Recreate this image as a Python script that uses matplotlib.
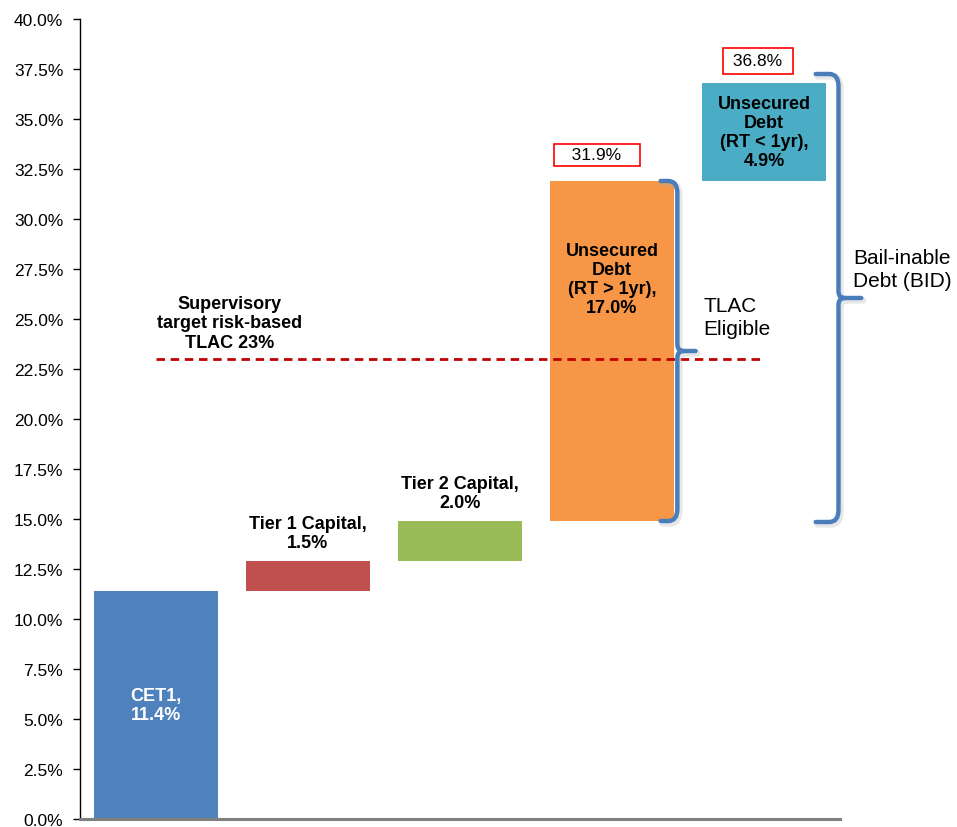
import matplotlib
matplotlib.use("Agg")
import matplotlib.pyplot as plt
from matplotlib.path import Path
from matplotlib.patches import PathPatch
from matplotlib.ticker import FuncFormatter, MultipleLocator
import numpy as np

plt.rcParams['font.family'] = ['Liberation Sans', 'DejaVu Sans']

categories = ["CET1", "Tier 1 Capital", "Tier 2 Capital",
              "Unsecured Debt (RT > 1yr)", "Unsecured Debt (RT < 1yr)"]
values = [11.4, 1.5, 2.0, 17.0, 4.9]
bar_labels = ["CET1,\n11.4%", "Tier 1 Capital,\n1.5%", "Tier 2 Capital,\n2.0%",
              "Unsecured\nDebt\n(RT > 1yr),\n17.0%", "Unsecured\nDebt\n(RT < 1yr),\n4.9%"]
colors = ["#4F81BD", "#C0504D", "#9BBB59", "#F79646", "#4BACC6"]
total_labels = ["31.9%", "36.8%"]
target = 23.0
target_label = "Supervisory\ntarget risk-based\nTLAC 23%"

bottoms = np.concatenate([[0], np.cumsum(values)[:-1]])
tops = bottoms + np.array(values)
x = np.arange(len(values))

fig = plt.figure(figsize=(9.57, 8.28), dpi=100)
ax = fig.add_axes([80/957, 8/828, 760/957, 800/828])

ax.bar(x, values, bottom=bottoms, width=0.82, color=colors, zorder=2)

ax.set_xlim(-0.5, 4.5)
ax.set_ylim(0, 40)
ax.yaxis.set_major_locator(MultipleLocator(2.5))
ax.yaxis.set_major_formatter(FuncFormatter(lambda v, p: f"{v:.1f}%"))
ax.tick_params(axis='y', direction='out', length=5, width=1, labelsize=12.5, pad=7)
ax.set_xticks([])
for s in ['top', 'right']:
    ax.spines[s].set_visible(False)
ax.spines['left'].set_color('black')
ax.spines['left'].set_linewidth(1)
ax.spines['bottom'].set_color('#808080')
ax.spines['bottom'].set_linewidth(2.2)

# bar labels
bold = dict(fontsize=13, fontweight='bold', ha='center', linespacing=1.17)
ax.text(x[0], (bottoms[0] + tops[0]) / 2, bar_labels[0], color='white', va='center', **bold)
ax.text(x[1], tops[1] + 0.5, bar_labels[1], color='black', va='bottom', **bold)
ax.text(x[2], tops[2] + 0.5, bar_labels[2], color='black', va='bottom', **bold)
ax.text(x[3], 27.0, bar_labels[3], color='black', va='center', **bold)
ax.text(x[4], (bottoms[4] + tops[4]) / 2, bar_labels[4], color='black', va='center', **bold)

# total boxes
ax.text(x[3] - 0.10, tops[3] + 1.3, f"   {total_labels[0]}   ", ha='center', va='center',
        fontsize=12.5, bbox=dict(boxstyle='square,pad=0.2', fc='white', ec='red', lw=1.2),
        zorder=5)
ax.text(x[4] - 0.04, tops[4] + 1.1, f" {total_labels[1]} ", ha='center', va='center',
        fontsize=12.5, bbox=dict(boxstyle='square,pad=0.3', fc='white', ec='red', lw=1.2),
        zorder=5)

# target line
ax.hlines(target, x[0], x[4], colors='#C00000', linestyles=(0, (3.05, 2.05)), lw=2.0, zorder=3)
ax.text(0.484, 24.8, target_label, ha='center', va='center', fontsize=13,
        fontweight='bold', linespacing=1.17)


def brace(xv, y0, y1, xhook, xtip, rx, ry, lw=3.2):
    ymid = (y0 + y1) / 2
    verts = [(xhook, y1), (xv - rx, y1), (xv, y1), (xv, y1 - ry),
             (xv, ymid + 0.35), (xv, ymid), (xv + 0.04, ymid), (xtip, ymid),
             (xv + 0.04, ymid), (xv, ymid), (xv, ymid - 0.35),
             (xv, y0 + ry), (xv, y0), (xv - rx, y0), (xhook, y0)]
    codes = [Path.MOVETO, Path.LINETO, Path.CURVE3, Path.CURVE3,
             Path.LINETO, Path.CURVE3, Path.CURVE3, Path.LINETO,
             Path.MOVETO, Path.CURVE3, Path.CURVE3,
             Path.LINETO, Path.CURVE3, Path.CURVE3, Path.LINETO]
    sh = [(vx + 0.012, vy - 0.12) for vx, vy in verts]
    ax.add_patch(PathPatch(Path(sh, codes), fc='none', ec='#b0b0b0', lw=lw + 1.5,
                           alpha=0.3, clip_on=False, zorder=3, capstyle='round'))
    ax.add_patch(PathPatch(Path(verts, codes), fc='none', ec='#4A7EBB', lw=lw,
                           clip_on=False, zorder=4, capstyle='round', joinstyle='round'))


brace(3.43, tops[2], tops[3], 3.32, 3.55, 0.06, 0.6)
brace(4.49, tops[2] - 0.05, 37.25, 4.34, 4.64, 0.06, 0.6)

ax.text(3.6, 25.1, "TLAC\nEligible", ha='left', va='center', fontsize=15, linespacing=1.28)
ax.text(4.585, 27.5, "Bail-inable\nDebt (BID)", ha='left', va='center', fontsize=15,
        linespacing=1.28, clip_on=False)

fig.savefig("out.png", dpi=100)
